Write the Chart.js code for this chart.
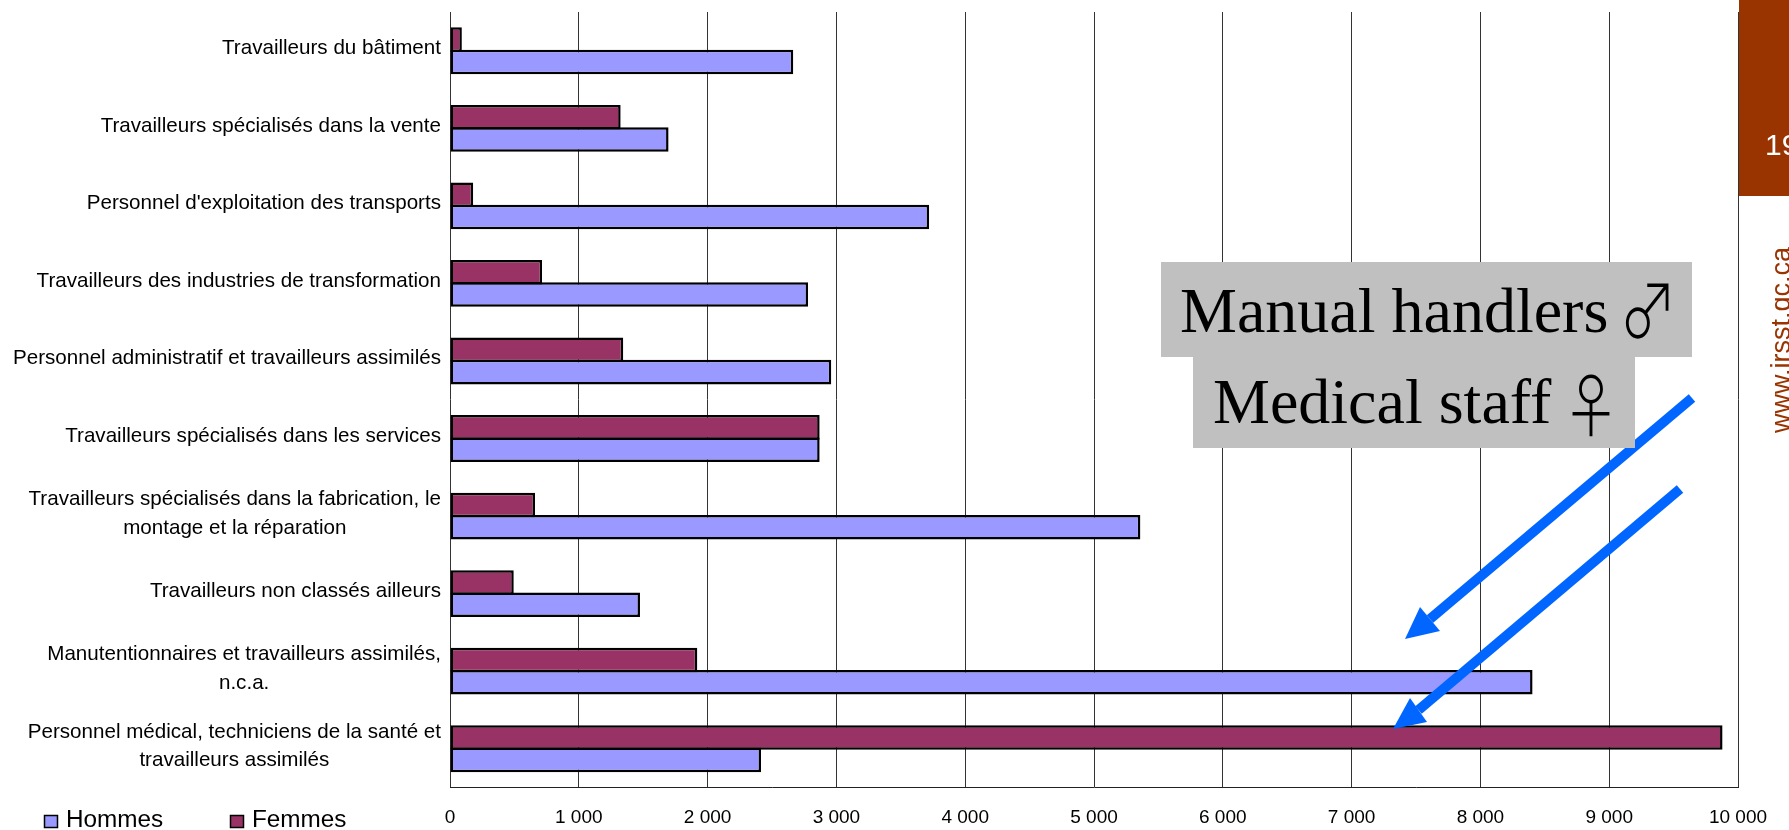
<!DOCTYPE html>
<html lang="fr">
<head>
<meta charset="utf-8">
<title>Hommes et femmes par groupe de professions</title>
<script src="https://cdn.jsdelivr.net/npm/chart.js@4/dist/chart.umd.min.js"></script>
<style>
  html, body { margin: 0; padding: 0; background: #fff; overflow: hidden; }
  canvas { display: block; }
</style>
</head>
<body>
<canvas id="chart" width="1789" height="830"></canvas>
<script>
/* Occupation groups, listed from the top of the chart down */
const categories = [
  ['Travailleurs du bâtiment'],
  ['Travailleurs spécialisés dans la vente'],
  ["Personnel d'exploitation des transports"],
  ['Travailleurs des industries de transformation'],
  ['Personnel administratif et travailleurs assimilés'],
  ['Travailleurs spécialisés dans les services'],
  ['Travailleurs spécialisés dans la fabrication, le', 'montage et la réparation'],
  ['Travailleurs non classés ailleurs'],
  ['Manutentionnaires et travailleurs assimilés,', 'n.c.a.'],
  ['Personnel médical, techniciens de la santé et', 'travailleurs assimilés'],
];
const hommes = [2665, 1697, 3720, 2780, 2960, 2870, 5360, 1475, 8405, 2415];
const femmes = [92, 1325, 180, 715, 1345, 2870, 660, 495, 1920, 9880];
const xTickLabels = ['0', '1 000', '2 000', '3 000', '4 000', '5 000', '6 000', '7 000', '8 000', '9 000', '10 000'];

const SANS = "'Liberation Sans', sans-serif";
const SERIF = "'Liberation Serif', serif";
const BRICK = '#993300';
const ARROW_BLUE = '#0066ff';

function arrow(ctx, x0, y0, tip, left, right, width) {
  ctx.save();
  ctx.strokeStyle = ARROW_BLUE;
  ctx.fillStyle = ARROW_BLUE;
  ctx.lineWidth = width;
  ctx.beginPath();
  ctx.moveTo(x0, y0);
  ctx.lineTo((left[0] + right[0]) / 2, (left[1] + right[1]) / 2);
  ctx.stroke();
  ctx.beginPath();
  ctx.moveTo(tip[0], tip[1]);
  ctx.lineTo(left[0], left[1]);
  ctx.lineTo(right[0], right[1]);
  ctx.closePath();
  ctx.fill();
  ctx.restore();
}

/* Gender sign, stretched upward from its baseline */
function sign(ctx, glyph, x, y, sy) {
  ctx.save();
  ctx.translate(x, y);
  ctx.scale(1, sy);
  ctx.font = "300 58px 'Noto Sans CJK JP'";
  ctx.fillText(glyph, 0, 0);
  ctx.restore();
}

/* Category labels: the lines of a label are centred on each other, the block sits right */
const categoryLabels = {
  id: 'categoryLabels',
  afterDraw(chart) {
    const { ctx, scales: { y } } = chart;
    const right = 441, lineHeight = 28.5;
    ctx.save();
    ctx.font = '20.6px ' + SANS;
    ctx.fillStyle = '#000';
    ctx.textBaseline = 'middle';
    ctx.textAlign = 'center';
    categories.forEach((lines, i) => {
      const w = Math.max(...lines.map(l => ctx.measureText(l).width));
      const cy = y.getPixelForTick(i) - 2.5;
      lines.forEach((line, k) => {
        ctx.fillText(line, right - w / 2, cy + (k - (lines.length - 1) / 2) * lineHeight);
      });
    });
    ctx.restore();
  }
};

/* Series key under the category labels */
const seriesKey = {
  id: 'seriesKey',
  afterDraw(chart) {
    const { ctx } = chart;
    const entries = [
      { label: 'Hommes', color: chart.data.datasets[1].backgroundColor, x: 44.5 },
      { label: 'Femmes', color: chart.data.datasets[0].backgroundColor, x: 230.5 },
    ];
    ctx.save();
    entries.forEach(e => {
      ctx.fillStyle = e.color;
      ctx.strokeStyle = '#000';
      ctx.lineWidth = 1.5;
      ctx.fillRect(e.x, 815.5, 13, 12);
      ctx.strokeRect(e.x, 815.5, 13, 12);
      ctx.font = '24.3px ' + SANS;
      ctx.fillStyle = '#000';
      ctx.textBaseline = 'alphabetic';
      ctx.fillText(e.label, e.x + 21.5, 826.5);
    });
    ctx.restore();
  }
};

/* Callout boxes, arrows and the slide furniture on the right */
const slideOverlay = {
  id: 'slideOverlay',
  afterDraw(chart) {
    const { ctx } = chart;

    ctx.fillStyle = BRICK;
    ctx.fillRect(1739, 0, 50, 196);
    ctx.font = '30px ' + SANS;
    ctx.fillStyle = '#fff';
    ctx.textBaseline = 'alphabetic';
    ctx.fillText('19', 1765, 155);

    ctx.save();
    ctx.translate(1790, 433);
    ctx.rotate(-Math.PI / 2);
    ctx.font = '27px ' + SANS;
    ctx.fillStyle = BRICK;
    ctx.fillText('www.irsst.qc.ca', 0, 0);
    ctx.restore();

    arrow(ctx, 1692, 398, [1405, 639], [1420, 607], [1440, 631], 10);
    arrow(ctx, 1680, 489, [1393, 729], [1410, 698], [1427, 722], 10);

    ctx.fillStyle = '#c0c0c0';
    ctx.fillRect(1161, 262, 531, 95);
    ctx.fillRect(1193, 357, 442, 91);

    ctx.fillStyle = '#000';
    ctx.font = '64px ' + SERIF;
    ctx.fillText('Manual handlers', 1180, 332);
    ctx.fillText('Medical staff', 1213, 423);
    sign(ctx, '♂', 1619, 337.5, 1.27);
    sign(ctx, '♀', 1562, 432, 1.2);
  }
};

new Chart(document.getElementById('chart'), {
  type: 'bar',
  data: {
    labels: categories,
    datasets: [
      { label: 'Femmes', data: femmes, backgroundColor: '#993366' },
      { label: 'Hommes', data: hommes, backgroundColor: '#9999ff' },
    ]
  },
  options: {
    indexAxis: 'y',
    responsive: false,
    animation: false,
    layout: { padding: { left: 450, right: 51, top: 12, bottom: 0 } },
    datasets: {
      bar: {
        borderColor: '#000',
        borderWidth: 2.5,
        borderSkipped: false,
        categoryPercentage: 0.575,
        barPercentage: 1.1,
      }
    },
    plugins: { legend: { display: false }, tooltip: { enabled: false } },
    scales: {
      x: {
        min: 0,
        max: 10000,
        afterFit(scale) { scale.height = 42.5; },
        grid: { color: '#333', lineWidth: 1, drawTicks: false },
        border: { display: true, color: '#222', width: 1 },
        ticks: {
          stepSize: 1000,
          autoSkip: false,
          maxRotation: 0,
          padding: 19,
          color: '#000',
          font: { family: SANS, size: 19 },
          callback: v => xTickLabels[v / 1000],
        }
      },
      y: {
        afterFit(scale) { scale.width = 0; },
        grid: { display: false },
        border: { display: false },
        ticks: { display: false },
      }
    }
  },
  plugins: [categoryLabels, seriesKey, slideOverlay]
});
</script>
</body>
</html>
